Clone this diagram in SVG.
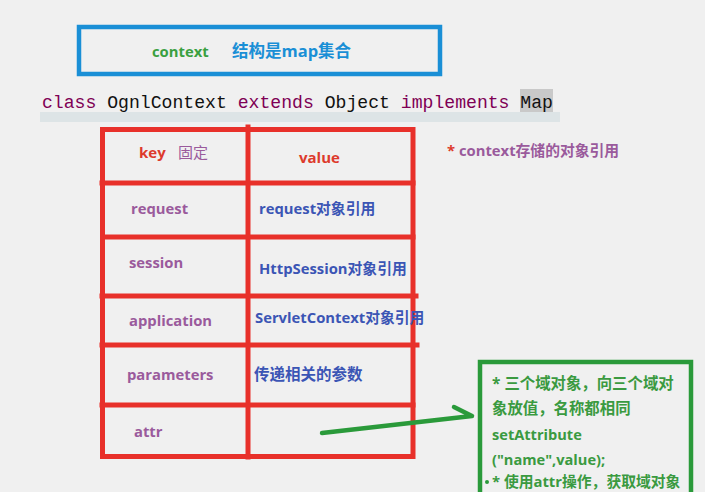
<svg xmlns="http://www.w3.org/2000/svg" width="705" height="492" viewBox="0 0 705 492">
<style>
.t{font-family:"Open Sans","Noto Sans","Noto Sans CJK SC",sans-serif;font-weight:bold;}
.cjk{font-family:"Noto Sans CJK SC","Open Sans",sans-serif;font-weight:bold;}
.k{fill:#9a5a9c;font-size:14.8px;}
.v{fill:#3b55b5;font-size:14.8px;}
.red{fill:#dd3a2c;}
.g{fill:#3a9a40;font-size:15px;}
.code{font-family:"Liberation Mono","DejaVu Sans Mono",monospace;font-size:18px;fill:#111;}
.kw{fill:#7f0055;}
.rl{stroke:#e8302a;stroke-width:5;fill:none;stroke-linecap:square;}
</style>
<rect x="0" y="0" width="705" height="492" fill="#f0f0f0"/>

<g id="title-box">
<rect x="79" y="27" width="361" height="47" fill="none" stroke="#1a8fd6" stroke-width="4.5"/>
<text x="152" y="57" class="t" font-size="14.8" fill="#3aa040">context</text>
<text x="232" y="57" class="t" font-size="16.5" fill="#1a8fd6">结构是map集合</text>
</g>

<g id="code-line">
<rect x="40" y="112" width="520" height="10" fill="#dde4e6"/>
<rect x="520" y="89" width="33" height="23" fill="#c9c9c9"/>
<text x="42" y="108" class="code" textLength="511" lengthAdjust="spacingAndGlyphs"><tspan class="kw">class</tspan> OgnlContext <tspan class="kw">extends</tspan> Object <tspan class="kw">implements</tspan> Map</text>
</g>

<g id="table">
<rect x="102.5" y="129.5" width="310.5" height="327" class="rl"/>
<line x1="248" y1="127" x2="248" y2="457" class="rl"/>
<line x1="102" y1="183" x2="413" y2="183" class="rl"/>
<line x1="106" y1="237" x2="413" y2="237" class="rl"/>
<line x1="102" y1="296" x2="416" y2="296" class="rl"/>
<line x1="102" y1="345" x2="417" y2="345" class="rl"/>
<line x1="102" y1="405" x2="413" y2="405" class="rl"/>
</g>

<g id="row-key">
<text x="139" y="158" class="t red" font-size="15">key</text>
<text x="178" y="158" class="cjk" font-size="15" fill="#9a5a9c" style="font-weight:normal">固定</text>
<text x="299" y="163" class="t red" font-size="15">value</text>
</g>
<g id="row-request">
<text x="131" y="214" class="t k">request</text>
<text x="259" y="214" class="t v">request对象引用</text>
</g>
<g id="row-session">
<text x="129" y="268" class="t k">session</text>
<text x="259" y="274" class="t v">HttpSession对象引用</text>
</g>
<g id="row-application">
<text x="129" y="326" class="t k">application</text>
<text x="255" y="323" class="t v">ServletContext对象引用</text>
</g>
<g id="row-parameters">
<text x="127" y="380" class="t k">parameters</text>
<text x="254" y="380" class="cjk v" style="font-size:15.5px">传递相关的参数</text>
</g>
<g id="row-attr">
<text x="134" y="437" class="t k">attr</text>
</g>

<g id="note">
<text x="447" y="156" class="t" font-size="14.8"><tspan fill="#dd3a2c">*</tspan><tspan fill="#9a5a9c"> context存储的对象引用</tspan></text>
</g>

<g id="connectors">
<path d="M322 433 L472 416 M454 407 L472 416" fill="none" stroke="#2a9a3a" stroke-width="4.5" stroke-linecap="round" stroke-linejoin="round"/>
</g>

<g id="green-box">
<rect x="480" y="362" width="211" height="140" fill="none" stroke="#2a9a3a" stroke-width="4.5"/>
<text x="492" y="389" class="t g" style="font-size:15.4px">* 三个域对象，向三个域对</text>
<text x="492" y="414" class="t g" style="font-size:15.4px">象放值，名称都相同</text>
<text x="492" y="440" class="t g" style="font-size:14.6px">setAttribute</text>
<text x="492" y="465" class="t g" style="font-size:14.6px">("name",value);</text>
<circle cx="487" cy="482" r="2" fill="#2a9a3a"/>
<text x="492" y="487" class="t g" style="font-size:14.8px">* 使用attr操作，获取域对象</text>
</g>
</svg>
